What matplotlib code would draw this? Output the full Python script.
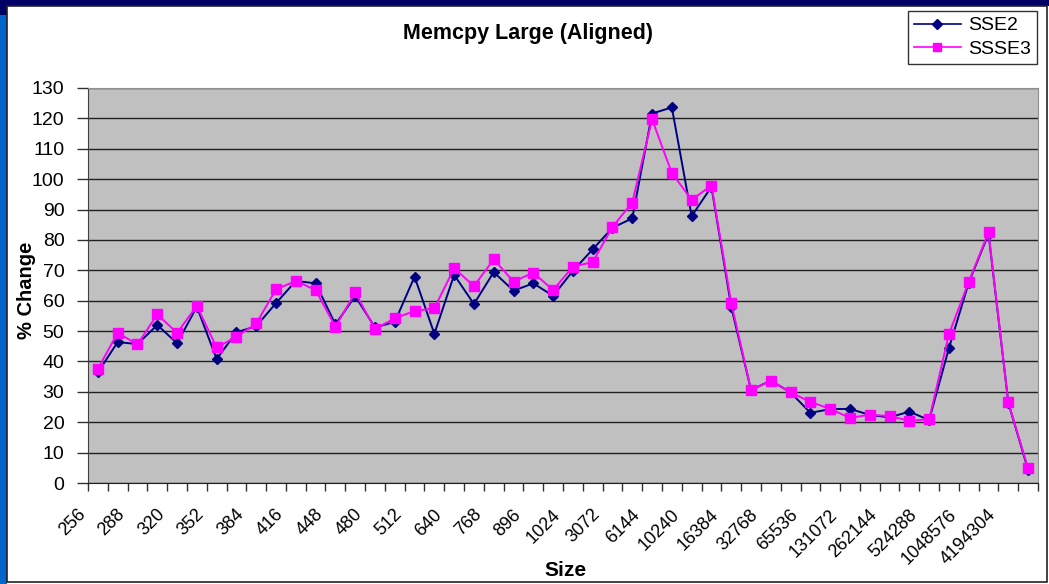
import matplotlib
matplotlib.use("Agg")
import matplotlib.pyplot as plt
from matplotlib.patches import Rectangle
from matplotlib.lines import Line2D
from matplotlib.transforms import ScaledTranslation, blended_transform_factory

plt.rcParams['font.family'] = ['Liberation Sans', 'DejaVu Sans']

size_labels = ["256", "288", "320", "352", "384", "416", "448", "480", "512", "640",
               "768", "896", "1024", "3072", "6144", "10240", "16384", "32768", "65536",
               "131072", "262144", "524288", "1048576", "4194304"]

sse2 = [36.4, 46.4, 45.7, 52.0, 46.0, 58.0, 40.8, 49.6, 51.6, 59.2, 66.5, 65.7,
        52.2, 61.5, 51.2, 53.0, 67.9, 49.1, 68.5, 58.9, 69.4, 63.3, 65.7, 61.6,
        69.8, 76.9, 84.0, 87.1, 121.6, 123.6, 87.8, 97.5, 58.0, 30.6, 33.7, 29.8,
        23.1, 24.3, 24.4, 22.4, 21.6, 23.5, 20.7, 44.4, 65.9, 82.0, 26.4, 4.3]

ssse3 = [37.6, 49.4, 45.6, 55.5, 49.4, 58.3, 44.6, 48.1, 52.5, 63.7, 66.5, 63.5,
         51.4, 62.7, 50.7, 54.2, 56.6, 57.5, 70.7, 64.8, 73.6, 66.3, 69.2, 63.5,
         71.2, 72.7, 84.3, 92.3, 119.7, 102.0, 93.2, 97.9, 59.3, 30.6, 33.7, 29.8,
         26.7, 24.4, 21.4, 22.5, 22.0, 20.5, 20.9, 49.0, 66.2, 82.5, 26.5, 4.8]

W, H = 1049, 584
fig = plt.figure(figsize=(W / 100, H / 100), dpi=100)
fig.patch.set_facecolor('white')

# outer frame
fig.patches.append(Rectangle((0, 0), 7 / W, 1, transform=fig.transFigure,
                             facecolor='#0066CC', edgecolor='none', zorder=-1))
fig.patches.append(Rectangle((0, 1 - 6 / H), 1, 6 / H, transform=fig.transFigure,
                             facecolor='#000066', edgecolor='none', zorder=-1))
fig.patches.append(Rectangle((0, 1 - 15 / H), 7 / W, 15 / H, transform=fig.transFigure,
                             facecolor='#000066', edgecolor='none', zorder=-1))
fig.patches.append(Rectangle((7 / W, 2 / H), 1040 / W, (H - 8) / H,
                             transform=fig.transFigure, facecolor='none',
                             edgecolor='#222222', lw=1.2, zorder=-1))

left, right, top, bottom = 88, 1038, 88, 483
ax = fig.add_axes([left / W, 1 - bottom / H, (right - left) / W, (bottom - top) / H])
ax.set_zorder(5)
ax.set_facecolor('#C0C0C0')

n = len(sse2)
x = list(range(n))

ax.plot(x, sse2, color='#000080', lw=1.4, marker='D', ms=5.5,
        markerfacecolor='#000080', markeredgecolor='#000080', zorder=3, label='SSE2')
ax.plot(x, ssse3, color='#FF00FF', lw=1.4, marker='s', ms=6.5,
        markerfacecolor='#FF00FF', markeredgecolor='#FF00FF', zorder=4, label='SSSE3')

# x ticks at category boundaries
ax.set_xticks([i - 0.5 for i in range(n + 1)])
ax.set_xticklabels([])
ax.tick_params(axis='x', length=6, width=1, color='#303030', direction='out')
ax.tick_params(axis='y', length=8, width=1, color='#303030', labelsize=14, pad=9)

ax.set_ylim(0, 130)
ax.set_xlim(-0.5, n - 0.5)
ax.set_yticks(range(0, 131, 10))
ax.yaxis.grid(True, color='#202020', lw=1.0)
ax.set_axisbelow(True)

# category labels, every other category, rotated 45 degrees
trans = blended_transform_factory(ax.transData, ax.transAxes) + \
    ScaledTranslation(-11 / 100, -23 / 100, fig.dpi_scale_trans)
for i, lab in enumerate(size_labels):
    ax.text(2 * i - 0.5, 0, lab, transform=trans, rotation=45, ha='right', va='top',
            rotation_mode='anchor', fontsize=13, clip_on=False)

for s in ['top', 'right']:
    ax.spines[s].set_color('#909090')
ax.spines['left'].set_color('#404040')
ax.spines['bottom'].set_color('#202020')

fig.text(528 / W, 1 - 33 / H, 'Memcpy Large (Aligned)', ha='center', va='center',
         fontsize=15.5, fontweight='bold')
fig.text(26 / W, 1 - 290 / H, '% Change', ha='center', va='center', rotation=90,
         fontsize=14.5, fontweight='bold')
fig.text(565 / W, 1 - 571 / H, 'Size', ha='center', va='center',
         fontsize=15, fontweight='bold')

handles = [Line2D([], [], color='#000080', lw=1.2, marker='D', ms=5),
           Line2D([], [], color='#FF00FF', lw=1.2, marker='s', ms=6)]
leg = fig.legend(handles, ['SSE2', 'SSSE3'], loc='upper left',
                 bbox_to_anchor=(908 / W, 1 - 11 / H), frameon=True, fancybox=False,
                 edgecolor='black', fontsize=14, handlelength=2.4, borderpad=0.3,
                 labelspacing=0.3, handletextpad=0.4, borderaxespad=0)
leg.get_frame().set_linewidth(1.0)

fig.savefig('out.png', dpi=100)
